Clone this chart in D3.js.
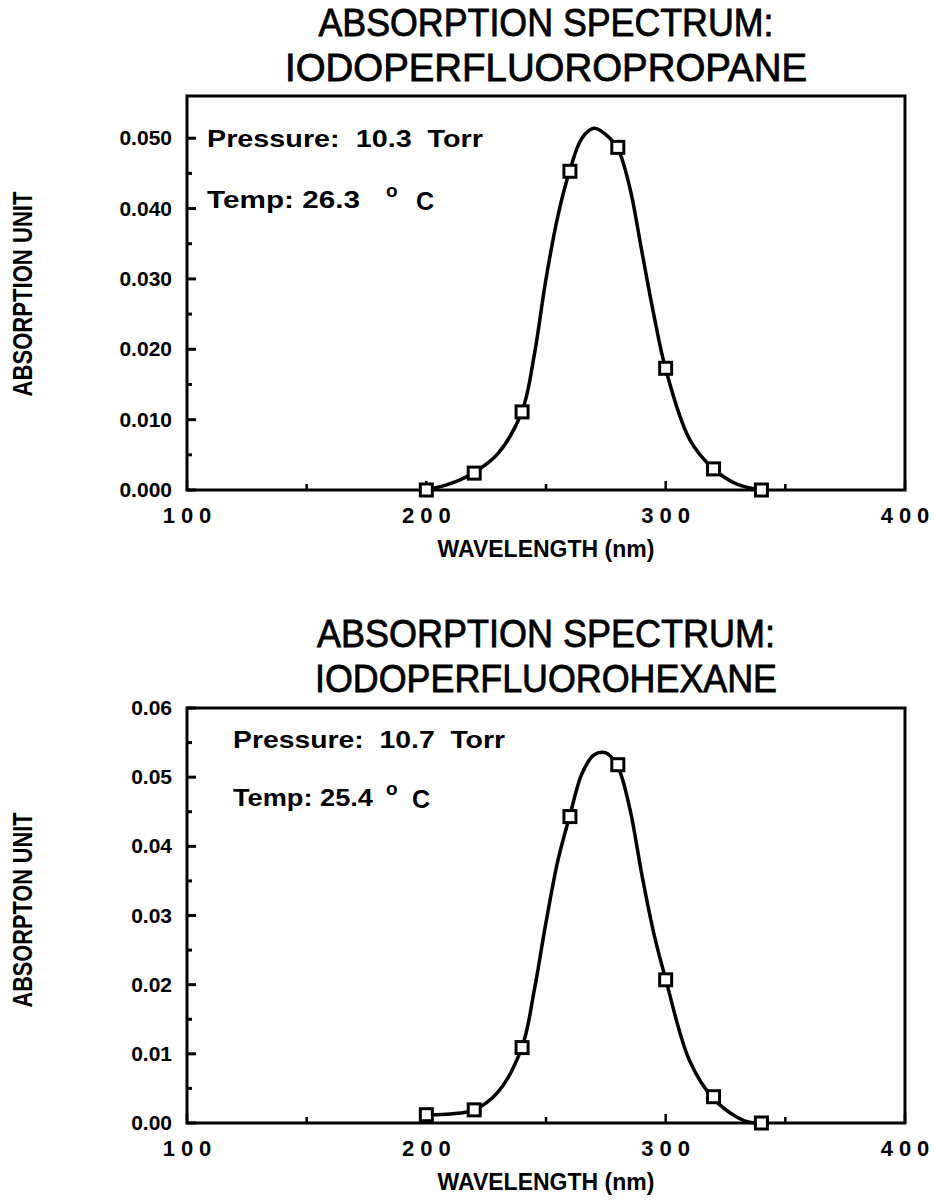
<!DOCTYPE html>
<html><head><meta charset="utf-8">
<script src="https://cdn.jsdelivr.net/npm/d3@7"></script>
<style>
body{margin:0;background:#fff}
svg{display:block}
text{font-family:"Liberation Sans",Arial,Helvetica,sans-serif;fill:#000}
</style>
</head><body>
<svg id="chart" width="934" height="1202"></svg>
<script>
// ---------- shared axis data ----------
const xDomain = [100, 400];
const xTickValues = [100, 200, 300, 400];
const xTickLabels = ["100", "200", "300", "400"];
const xMinorTicks = [150, 250, 350];
const xAxisTitle = "WAVELENGTH (nm)";

// ---------- chart 1: iodoperfluoropropane ----------
const title1 = ["ABSORPTION SPECTRUM:", "IODOPERFLUOROPROPANE"];
const yAxisTitle1 = "ABSORPTION UNIT";
const yDomain1 = [0, 0.056];
const yTickValues1 = [0, 0.01, 0.02, 0.03, 0.04, 0.05];
const yTickLabels1 = ["0.000", "0.010", "0.020", "0.030", "0.040", "0.050"];
const yMinorTicks1 = [0.005, 0.015, 0.025, 0.035, 0.045];
const wavelength1 = [200, 220, 240, 260, 280, 300, 320, 340];
const absorb1 = [0.0000, 0.0024, 0.0111, 0.0453, 0.0487, 0.0173, 0.0030, 0.0000];
const curveWl1 = [200, 210, 220, 230, 240, 245, 250, 255, 260, 265, 270, 275, 280, 285, 290, 295, 300, 310, 320, 330, 340];
const curveAbs1 = [0.0000, 0.0009, 0.0025, 0.0052, 0.0112, 0.0190, 0.0300, 0.0390, 0.0455, 0.0500, 0.0514, 0.0505, 0.0485, 0.0430, 0.0340, 0.0250, 0.0172, 0.0072, 0.0030, 0.0008, 0.0000];
const note1 = {pressure: "Pressure:  10.3  Torr", temp: "Temp: 26.3", deg: "o", unit: "C"};

// ---------- chart 2: iodoperfluorohexane ----------
const title2 = ["ABSORPTION SPECTRUM:", "IODOPERFLUOROHEXANE"];
const yAxisTitle2 = "ABSORPTON UNIT";
const yDomain2 = [0, 0.06];
const yTickValues2 = [0, 0.01, 0.02, 0.03, 0.04, 0.05, 0.06];
const yTickLabels2 = ["0.00", "0.01", "0.02", "0.03", "0.04", "0.05", "0.06"];
const yMinorTicks2 = [0.005, 0.015, 0.025, 0.035, 0.045, 0.055];
const wavelength2 = [200, 220, 240, 260, 280, 300, 320, 340];
const absorb2 = [0.0012, 0.0019, 0.0109, 0.0443, 0.0518, 0.0207, 0.0038, 0.0000];
const curveWl2 = [200, 210, 220, 230, 240, 245, 250, 255, 260, 265, 270, 275, 280, 285, 290, 295, 300, 310, 320, 330, 335, 340];
const curveAbs2 = [0.0012, 0.0013, 0.0019, 0.0045, 0.0110, 0.0190, 0.0290, 0.0380, 0.0445, 0.0505, 0.0532, 0.0535, 0.0515, 0.0455, 0.0360, 0.0275, 0.0208, 0.0090, 0.0035, 0.0008, 0.0001, 0.0000];
const note2 = {pressure: "Pressure:  10.7  Torr", temp: "Temp: 25.4", deg: "o", unit: "C"};

const svg = d3.select("#chart");

function drawChart(cfg) {
  const g = svg.append("g");
  const x = d3.scaleLinear().domain(xDomain).range([cfg.left, cfg.right]);
  const y = d3.scaleLinear().domain(cfg.yDomain).range([cfg.bottom, cfg.top]);

  // titles
  cfg.title.forEach((t, i) => {
    g.append("text")
      .attr("x", (cfg.left + cfg.right) / 2)
      .attr("y", cfg.titleY[i])
      .attr("text-anchor", "middle")
      .attr("font-size", 38)
      .attr("stroke", "#000").attr("stroke-width", 0.8)
      .attr("textLength", cfg.titleW[i])
      .attr("lengthAdjust", "spacingAndGlyphs")
      .text(t);
  });

  // frame
  g.append("rect")
    .attr("x", cfg.left).attr("y", cfg.top)
    .attr("width", cfg.right - cfg.left).attr("height", cfg.bottom - cfg.top)
    .attr("fill", "none").attr("stroke", "#000").attr("stroke-width", 3);

  // y ticks (inward)
  g.selectAll(null).data(cfg.yTickValues).enter().append("line")
    .attr("x1", cfg.left).attr("x2", cfg.left + 9)
    .attr("y1", d => y(d)).attr("y2", d => y(d))
    .attr("stroke", "#000").attr("stroke-width", 3);
  g.selectAll(null).data(cfg.yMinorTicks).enter().append("line")
    .attr("x1", cfg.left).attr("x2", cfg.left + 5)
    .attr("y1", d => y(d)).attr("y2", d => y(d))
    .attr("stroke", "#000").attr("stroke-width", 3);
  g.selectAll(null).data(cfg.yTickValues).enter().append("text")
    .attr("x", cfg.left - 15)
    .attr("y", d => y(d) + 7)
    .attr("text-anchor", "end")
    .attr("font-size", 21).attr("font-weight", "bold")
    .text((d, i) => cfg.yTickLabels[i]);

  // x ticks (inward)
  g.selectAll(null).data(xTickValues).enter().append("line")
    .attr("x1", d => x(d)).attr("x2", d => x(d))
    .attr("y1", cfg.bottom).attr("y2", cfg.bottom - 9)
    .attr("stroke", "#000").attr("stroke-width", 2.5);
  g.selectAll(null).data(xMinorTicks).enter().append("line")
    .attr("x1", d => x(d)).attr("x2", d => x(d))
    .attr("y1", cfg.bottom).attr("y2", cfg.bottom - 6)
    .attr("stroke", "#000").attr("stroke-width", 2.5);
  g.selectAll(null).data(xTickValues).enter().append("text")
    .attr("x", d => x(d) + 3)
    .attr("y", cfg.bottom + 33)
    .attr("text-anchor", "middle")
    .attr("font-size", 22).attr("font-weight", "bold")
    .attr("letter-spacing", 6)
    .text((d, i) => xTickLabels[i]);

  // axis titles
  g.append("text")
    .attr("x", (cfg.left + cfg.right) / 2)
    .attr("y", cfg.bottom + 67)
    .attr("text-anchor", "middle")
    .attr("font-size", 23).attr("font-weight", "bold")
    .text(xAxisTitle);
  g.append("text")
    .attr("transform", `translate(${cfg.yTitleX},${cfg.yTitleY}) rotate(-90)`)
    .attr("text-anchor", "middle")
    .attr("font-size", 28).attr("font-weight", "bold")
    .attr("textLength", cfg.yTitleW).attr("lengthAdjust", "spacingAndGlyphs")
    .text(cfg.yTitle);

  // notes
  g.append("text")
    .attr("x", cfg.noteX).attr("y", cfg.noteY[0])
    .attr("font-size", 24).attr("font-weight", "bold")
    .attr("textLength", cfg.noteW[0]).attr("lengthAdjust", "spacingAndGlyphs")
    .attr("xml:space", "preserve")
    .text(cfg.note.pressure);
  g.append("text")
    .attr("x", cfg.noteX).attr("y", cfg.noteY[1])
    .attr("font-size", 24).attr("font-weight", "bold")
    .attr("textLength", cfg.noteW[1]).attr("lengthAdjust", "spacingAndGlyphs")
    .text(cfg.note.temp);
  g.append("text")
    .attr("x", cfg.degX).attr("y", cfg.noteY[1] - 11)
    .attr("font-size", 19).attr("font-weight", "bold")
    .text(cfg.note.deg);
  g.append("text")
    .attr("x", cfg.unitX).attr("y", cfg.noteY[1] + 2)
    .attr("font-size", 25).attr("font-weight", "bold")
    .text(cfg.note.unit);

  // fitted curve
  const line = d3.line()
    .x(d => x(d[0])).y(d => y(d[1]))
    .curve(d3.curveCatmullRom.alpha(0.5));
  g.append("path")
    .datum(cfg.curveWl.map((w, i) => [w, cfg.curveAbs[i]]))
    .attr("d", line)
    .attr("fill", "none").attr("stroke", "#000").attr("stroke-width", 3.5);

  // markers
  const s = 12;
  g.selectAll(null).data(cfg.wl.map((w, i) => [w, cfg.abs[i]])).enter().append("rect")
    .attr("x", d => x(d[0]) - s / 2).attr("y", d => y(d[1]) - s / 2)
    .attr("width", s).attr("height", s)
    .attr("fill", "#fff").attr("stroke", "#000").attr("stroke-width", 3);
}

drawChart({
  left: 187, right: 905, top: 96, bottom: 490,
  yDomain: yDomain1, yTickValues: yTickValues1, yTickLabels: yTickLabels1, yMinorTicks: yMinorTicks1,
  title: title1, titleY: [36, 81], titleW: [455, 522],
  yTitle: yAxisTitle1, yTitleX: 32, yTitleY: 294, yTitleW: 205,
  note: note1, noteX: 207, noteY: [147, 208], noteW: [276, 153], degX: 386, unitX: 416,
  wl: wavelength1, abs: absorb1, curveWl: curveWl1, curveAbs: curveAbs1
});

drawChart({
  left: 187, right: 905, top: 708, bottom: 1123,
  yDomain: yDomain2, yTickValues: yTickValues2, yTickLabels: yTickLabels2, yMinorTicks: yMinorTicks2,
  title: title2, titleY: [647, 692], titleW: [458, 462],
  yTitle: yAxisTitle2, yTitleX: 32, yTitleY: 910, yTitleW: 195,
  note: note2, noteX: 233, noteY: [748, 806], noteW: [272, 140], degX: 386, unitX: 412,
  wl: wavelength2, abs: absorb2, curveWl: curveWl2, curveAbs: curveAbs2
});
</script>
</body></html>
